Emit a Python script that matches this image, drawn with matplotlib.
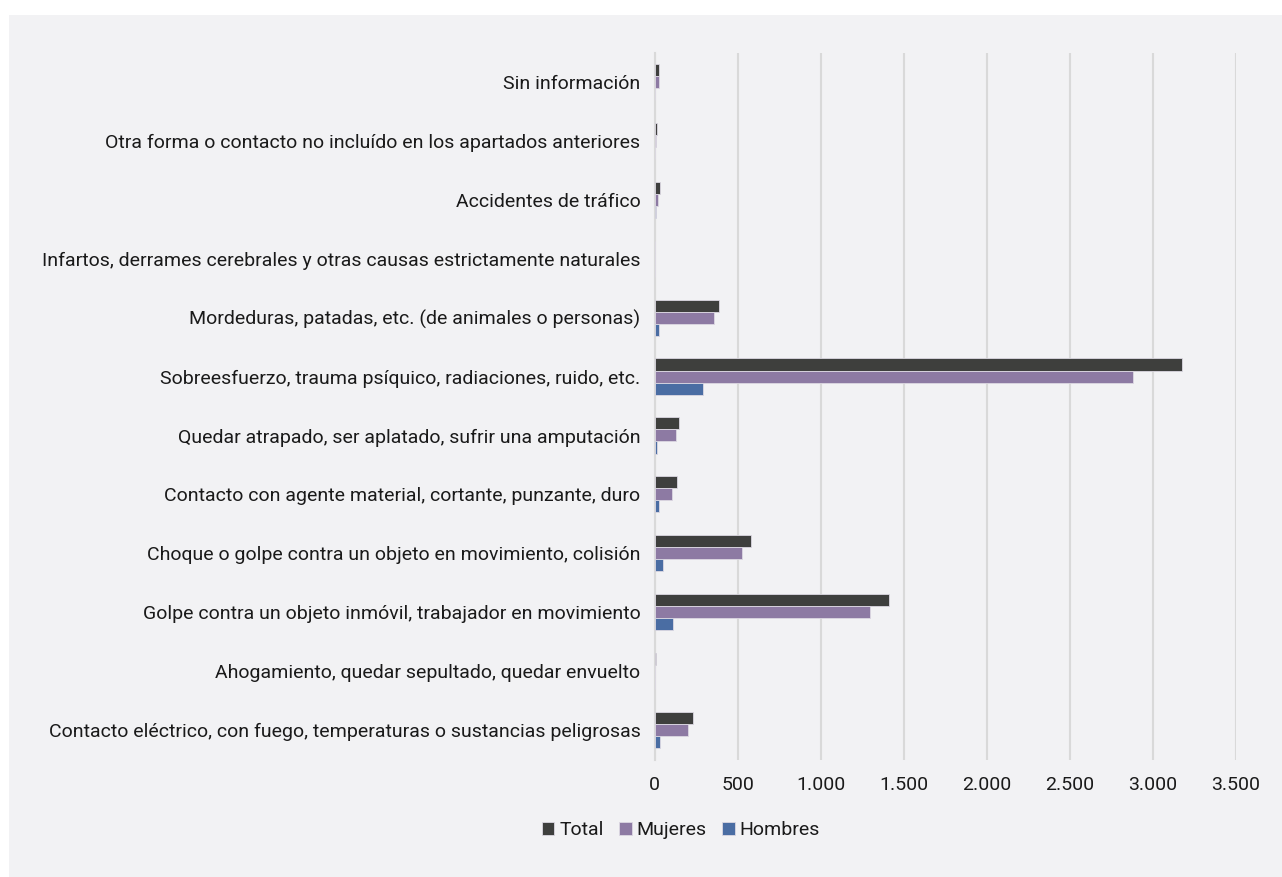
import matplotlib
matplotlib.use("Agg")
import matplotlib.pyplot as plt
import numpy as np
from matplotlib.patches import Rectangle

categories = [
    "Sin información",
    "Otra forma o contacto no incluído en los apartados anteriores",
    "Accidentes de tráfico",
    "Infartos, derrames cerebrales y otras causas estrictamente naturales",
    "Mordeduras, patadas, etc. (de animales o personas)",
    "Sobreesfuerzo, trauma psíquico, radiaciones, ruido, etc.",
    "Quedar atrapado, ser aplatado, sufrir una amputación",
    "Contacto con agente material, cortante, punzante, duro",
    "Choque o golpe contra un objeto en movimiento, colisión",
    "Golpe contra un objeto inmóvil, trabajador en movimiento",
    "Ahogamiento, quedar sepultado, quedar envuelto",
    "Contacto eléctrico, con fuego, temperaturas o sustancias peligrosas",
]
total   = [29, 15, 31, 3, 388, 3175, 149, 134, 581, 1411, 7, 230]
mujeres = [25, 11, 23, 2, 358, 2880, 128, 104, 525, 1296, 4, 200]
hombres = [2, 1, 7, 1, 29, 294, 17, 29, 53, 111, 1, 31]
series_names = ["Total", "Mujeres", "Hombres"]
colors = ["#3e3f3d", "#8d7aa3", "#4a6da3"]
xticks = [0, 500, 1000, 1500, 2000, 2500, 3000, 3500]
xtick_labels = ["0", "500", "1.000", "1.500", "2.000", "2.500", "3.000", "3.500"]

plt.rcParams['font.family'] = ['Roboto', 'DejaVu Sans']

W, H = 1282, 877
fig = plt.figure(figsize=(W/100, H/100), dpi=100)
fig.patch.set_facecolor("white")
bg = Rectangle((9/W, 0), 1 - 9/W, 1 - 15/H, transform=fig.transFigure,
               facecolor="#f2f2f4", edgecolor="none", zorder=-10)
fig.patches.append(bg)

left, right = 654.5, 1236
top, bottom = 52.5, 759.5
ax = fig.add_axes([left/W, 1 - bottom/H, (right-left)/W, (bottom-top)/H])
ax.set_facecolor("none")

y = np.arange(len(categories))
h = 0.205
for i, (vals, name, c) in enumerate(zip([total, mujeres, hombres], series_names, colors)):
    ax.barh(y + (i - 1) * h, vals, height=h, color=c, label=name,
            edgecolor="#dcd8e2", linewidth=0.6, zorder=3)

fs = 14
ax.set_ylim(len(categories) - 0.5, -0.5)
ax.set_xlim(0, 3500)
ax.set_xticks(xticks)
ax.set_xticklabels(xtick_labels, fontsize=fs, color="#1a1a1a")
ax.set_yticks(y)
ax.set_yticklabels(categories, fontsize=fs, color="#1a1a1a")
ax.tick_params(axis="both", length=0)
ax.tick_params(axis="x", pad=12)
ax.tick_params(axis="y", pad=10)
ax.grid(axis="x", color="#d9d9d9", linewidth=1.5, zorder=0)
for s in ["top", "right", "bottom"]:
    ax.spines[s].set_visible(False)
ax.spines["left"].set_color("#d9d9d9")
ax.spines["left"].set_linewidth(1.5)

leg = fig.legend(loc="center", bbox_to_anchor=(681/W, 1 - 830/H), ncol=3,
                 frameon=False, fontsize=fs, handlelength=0.65, handleheight=0.65,
                 handletextpad=0.25, columnspacing=0.8)
for t in leg.get_texts():
    t.set_color("#1a1a1a")

fig.savefig("out.png", dpi=100, facecolor=fig.get_facecolor())
